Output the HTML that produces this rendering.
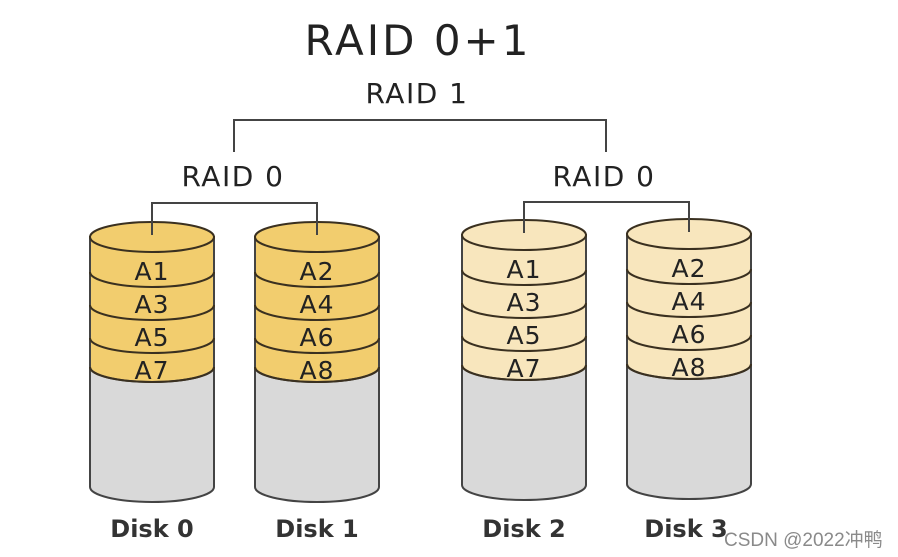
<!DOCTYPE html>
<html><head><meta charset="utf-8"><style>
html,body{margin:0;padding:0;background:#fff;width:898px;height:557px;overflow:hidden}
svg{display:block}
text{font-family:"DejaVu Sans","Liberation Sans",sans-serif;fill:#222}
</style></head><body>
<svg width="898" height="557" viewBox="0 0 898 557" xmlns="http://www.w3.org/2000/svg">
<defs>
<g id="body">
<path d="M-62,237 L-62,487 A62 15 0 0 0 62,487 L62,237 Z" fill="#d9d9d9" stroke="#444" stroke-width="2"/>
</g>
<g id="arcs" fill="none" stroke="#3a3020" stroke-width="2">
<path d="M-62,272 A62 15 0 0 0 62,272"/>
<path d="M-62,305 A62 15 0 0 0 62,305"/>
<path d="M-62,338 A62 15 0 0 0 62,338"/>
<path d="M-62,367 A62 15 0 0 0 62,367"/>
</g>
</defs>

<text x="418" y="55" font-size="42" letter-spacing="3" text-anchor="middle">RAID 0+1</text>
<text x="417" y="103" font-size="28" letter-spacing="1.5" text-anchor="middle">RAID 1</text>
<text x="233" y="186" font-size="28" letter-spacing="1.5" text-anchor="middle">RAID 0</text>
<text x="604" y="186" font-size="28" letter-spacing="1.5" text-anchor="middle">RAID 0</text>

<g fill="none" stroke="#444" stroke-width="2">
<path d="M234,152 L234,120 L606,120 L606,152"/>
<path d="M152,237 L152,203 L317,203 L317,237"/>
<path d="M524,235 L524,202 L689,202 L689,235"/>
</g>

<g transform="translate(152,0)">
<use href="#body"/>
<path d="M-62,237 L-62,367 A62 15 0 0 0 62,367 L62,237 Z" fill="#f2cd6e" stroke="#444" stroke-width="2"/>
<use href="#arcs"/>
<ellipse cx="0" cy="237" rx="62" ry="15" fill="#f2cd6e" stroke="#3a3020" stroke-width="2"/>
<line x1="0" y1="203" x2="0" y2="235" stroke="#444" stroke-width="2"/>
<g font-size="25" letter-spacing="1" text-anchor="middle">
<text x="0" y="280">A1</text><text x="0" y="313">A3</text><text x="0" y="346">A5</text><text x="0" y="379">A7</text>
</g>
<text x="0" y="537" font-size="24" font-weight="bold" text-anchor="middle" style="fill:#333">Disk 0</text>
</g>

<g transform="translate(317,0)">
<use href="#body"/>
<path d="M-62,237 L-62,367 A62 15 0 0 0 62,367 L62,237 Z" fill="#f2cd6e" stroke="#444" stroke-width="2"/>
<use href="#arcs"/>
<ellipse cx="0" cy="237" rx="62" ry="15" fill="#f2cd6e" stroke="#3a3020" stroke-width="2"/>
<line x1="0" y1="203" x2="0" y2="235" stroke="#444" stroke-width="2"/>
<g font-size="25" letter-spacing="1" text-anchor="middle">
<text x="0" y="280">A2</text><text x="0" y="313">A4</text><text x="0" y="346">A6</text><text x="0" y="379">A8</text>
</g>
<text x="0" y="537" font-size="24" font-weight="bold" text-anchor="middle" style="fill:#333">Disk 1</text>
</g>

<g transform="translate(524,-2)">
<use href="#body"/>
<path d="M-62,237 L-62,367 A62 15 0 0 0 62,367 L62,237 Z" fill="#f8e6bd" stroke="#444" stroke-width="2"/>
<use href="#arcs"/>
<ellipse cx="0" cy="237" rx="62" ry="15" fill="#f8e6bd" stroke="#3a3020" stroke-width="2"/>
<line x1="0" y1="204" x2="0" y2="235" stroke="#444" stroke-width="2"/>
<g font-size="25" letter-spacing="1" text-anchor="middle">
<text x="0" y="280">A1</text><text x="0" y="313">A3</text><text x="0" y="346">A5</text><text x="0" y="379">A7</text>
</g>
</g>
<text x="524" y="537" font-size="24" font-weight="bold" text-anchor="middle" style="fill:#333">Disk 2</text>

<g transform="translate(689,-3)">
<use href="#body"/>
<path d="M-62,237 L-62,367 A62 15 0 0 0 62,367 L62,237 Z" fill="#f8e6bd" stroke="#444" stroke-width="2"/>
<use href="#arcs"/>
<ellipse cx="0" cy="237" rx="62" ry="15" fill="#f8e6bd" stroke="#3a3020" stroke-width="2"/>
<line x1="0" y1="205" x2="0" y2="235" stroke="#444" stroke-width="2"/>
<g font-size="25" letter-spacing="1" text-anchor="middle">
<text x="0" y="280">A2</text><text x="0" y="313">A4</text><text x="0" y="346">A6</text><text x="0" y="379">A8</text>
</g>
</g>
<text x="686" y="537" font-size="24" font-weight="bold" text-anchor="middle" style="fill:#333">Disk 3</text>

<text x="724" y="546" font-size="19" style="font-family:'Liberation Sans','Noto Sans CJK SC',sans-serif;fill:#8a8a8a">CSDN @2022冲鸭</text>
</svg>
</body></html>
